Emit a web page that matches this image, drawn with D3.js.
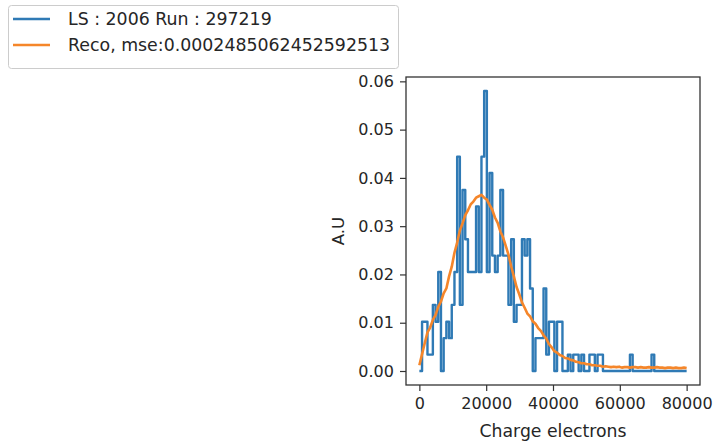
<!DOCTYPE html>
<html>
<head>
<meta charset="utf-8">
<script src="https://cdn.jsdelivr.net/npm/d3@7"></script>
<style>
  body { margin: 0; background: #fff; }
  svg text { font-family: "DejaVu Sans", sans-serif; fill: #262626; }
</style>
</head>
<body>
<svg id="chart" width="714" height="445"></svg>
<script>
// histogram of the lumisection (A.U per bin, 100 bins over 0..80000 electrons)
const lsValues = [
  0.0000, 0.0102, 0.0102, 0.0034, 0.0034, 0.0137, 0.0102, 0.0205, 0.0000, 0.0068,
  0.0102, 0.0068, 0.0137, 0.0205, 0.0444, 0.0137, 0.0375, 0.0273, 0.0205, 0.0205,
  0.0205, 0.0341, 0.0205, 0.0444, 0.0580, 0.0205, 0.0410, 0.0239, 0.0205, 0.0239,
  0.0375, 0.0239, 0.0239, 0.0137, 0.0273, 0.0102, 0.0137, 0.0137, 0.0273, 0.0239,
  0.0273, 0.0171, 0.0000, 0.0068, 0.0068, 0.0068, 0.0171, 0.0034, 0.0102, 0.0102,
  0.0000, 0.0102, 0.0102, 0.0000, 0.0000, 0.0034, 0.0000, 0.0034, 0.0034, 0.0000,
  0.0034, 0.0000, 0.0000, 0.0034, 0.0034, 0.0000, 0.0034, 0.0034, 0.0000, 0.0000,
  0.0000, 0.0000, 0.0000, 0.0000, 0.0000, 0.0000, 0.0000, 0.0000, 0.0034, 0.0000,
  0.0000, 0.0000, 0.0000, 0.0000, 0.0000, 0.0000, 0.0034, 0.0000, 0.0000, 0.0000,
  0.0000, 0.0000, 0.0000, 0.0000, 0.0000, 0.0000, 0.0000, 0.0000, 0.0000, 0.0000
];
// reconstruction from the model
const recoValues = [
  0.0012, 0.0035, 0.0058, 0.0080, 0.0090, 0.0106, 0.0116, 0.0133, 0.0144, 0.0161,
  0.0171, 0.0196, 0.0216, 0.0245, 0.0266, 0.0291, 0.0306, 0.0323, 0.0333, 0.0345,
  0.0351, 0.0359, 0.0362, 0.0365, 0.0359, 0.0355, 0.0344, 0.0334, 0.0318, 0.0307,
  0.0289, 0.0277, 0.0259, 0.0241, 0.0217, 0.0196, 0.0174, 0.0159, 0.0142, 0.0131,
  0.0119, 0.0113, 0.0103, 0.0098, 0.0089, 0.0083, 0.0074, 0.0067, 0.0056, 0.0049,
  0.0041, 0.0038, 0.0033, 0.0031, 0.0027, 0.0026, 0.0023, 0.0022, 0.0019, 0.0018,
  0.0016, 0.0016, 0.0014, 0.0014, 0.0012, 0.0012, 0.0011, 0.0011, 0.0009, 0.0010,
  0.0009, 0.0008, 0.0009, 0.0008, 0.0009, 0.0007, 0.0008, 0.0008, 0.0007, 0.0008,
  0.0008, 0.0007, 0.0008, 0.0007, 0.0007, 0.0008, 0.0007, 0.0007, 0.0008, 0.0007,
  0.0007, 0.0006, 0.0007, 0.0007, 0.0006, 0.0007, 0.0006, 0.0006, 0.0007, 0.0006
];
const xTicks = [0, 20000, 40000, 60000, 80000];
const yTicks = [0.00, 0.01, 0.02, 0.03, 0.04, 0.05, 0.06];
const legendLabels = ["LS : 2006 Run : 297219", "Reco, mse:0.0002485062452592513"];
const colors = ["#2f7ab5", "#f5862a"];
const xLabel = "Charge electrons";
const yLabel = "A.U";

const svg = d3.select("#chart");
const margin = {left: 406, right: 14, top: 77, bottom: 60};
const W = 714, H = 445;

// scale a text selection so that a reference string has the wanted width
function fitFont(sel, refNode, wanted) {
    const w = refNode.getComputedTextLength();
    const size = parseFloat(d3.select(refNode).style("font-size"));
    sel.style("font-size", (size * wanted / w).toFixed(2) + "px");
}

// x positions of the bins, spread over the charge range
const xPos = lsValues.map((d, i) => i * 80000 / (lsValues.length - 1));

const x = d3.scaleLinear().domain([-4000, 84000]).range([margin.left, W - margin.right]);
const y = d3.scaleLinear().domain([-0.0029, 0.0609]).range([H - margin.bottom, margin.top]);

// lines
const stepLine = d3.line()
    .x((d, i) => x(xPos[i]))
    .y(d => y(d))
    .curve(d3.curveStepAfter);
const recoLine = d3.line()
    .x((d, i) => x(xPos[i]))
    .y(d => y(d));

svg.append("path")
    .attr("d", stepLine(lsValues))
    .attr("fill", "none")
    .attr("stroke", colors[0])
    .attr("stroke-width", 2.4)
    .attr("stroke-linejoin", "round");
svg.append("path")
    .attr("d", recoLine(recoValues))
    .attr("fill", "none")
    .attr("stroke", colors[1])
    .attr("stroke-width", 2.6)
    .attr("stroke-linejoin", "round");

// axes
const xAxis = svg.append("g")
    .attr("transform", `translate(0,${H - margin.bottom})`)
    .call(d3.axisBottom(x).tickValues(xTicks).tickFormat(d3.format("d")).tickSize(6).tickPadding(7));
const yAxis = svg.append("g")
    .attr("transform", `translate(${margin.left},0)`)
    .call(d3.axisLeft(y).tickValues(yTicks).tickFormat(d3.format(".2f")).tickSize(6).tickPadding(6));
[xAxis, yAxis].forEach(a => {
    a.select(".domain").remove();
    a.selectAll("line").attr("stroke", "#333").attr("stroke-width", 1.2);
    a.selectAll("text").style("font-size", "16px").style("font-family", "DejaVu Sans").attr("fill", "#262626");
});
const tickTexts = svg.selectAll(".tick text");
fitFont(tickTexts, xAxis.selectAll(".tick text").nodes()[4], 51);

// frame
svg.append("rect")
    .attr("x", margin.left)
    .attr("y", margin.top)
    .attr("width", W - margin.right - margin.left)
    .attr("height", H - margin.bottom - margin.top)
    .attr("fill", "none")
    .attr("stroke", "#333")
    .attr("stroke-width", 1.3);

const xl = svg.append("text")
    .attr("x", (margin.left + W - margin.right) / 2)
    .attr("y", 437)
    .attr("text-anchor", "middle")
    .style("font-size", "16px")
    .text(xLabel);
fitFont(xl, xl.node(), 147);
svg.append("text")
    .attr("transform", `translate(344,${(margin.top + H - margin.bottom) / 2}) rotate(-90)`)
    .attr("text-anchor", "middle")
    .style("font-size", "16.5px")
    .text(yLabel);

// legend
svg.append("rect")
    .attr("x", 8.5).attr("y", 5.5)
    .attr("width", 390).attr("height", 63)
    .attr("rx", 3)
    .attr("fill", "#fff")
    .attr("stroke", "#ccc");
const legTexts = [];
legendLabels.forEach((lab, i) => {
    const ly = 19 + i * 26;
    svg.append("line")
        .attr("x1", 13).attr("x2", 50)
        .attr("y1", ly).attr("y2", ly)
        .attr("stroke", colors[i]).attr("stroke-width", 2.4);
    legTexts.push(svg.append("text")
        .attr("class", "legtext")
        .attr("x", 68).attr("y", ly + 6)
        .style("font-size", "16px")
        .text(lab).node());
});
fitFont(svg.selectAll(".legtext"), legTexts[1], 322);
</script>
</body>
</html>
